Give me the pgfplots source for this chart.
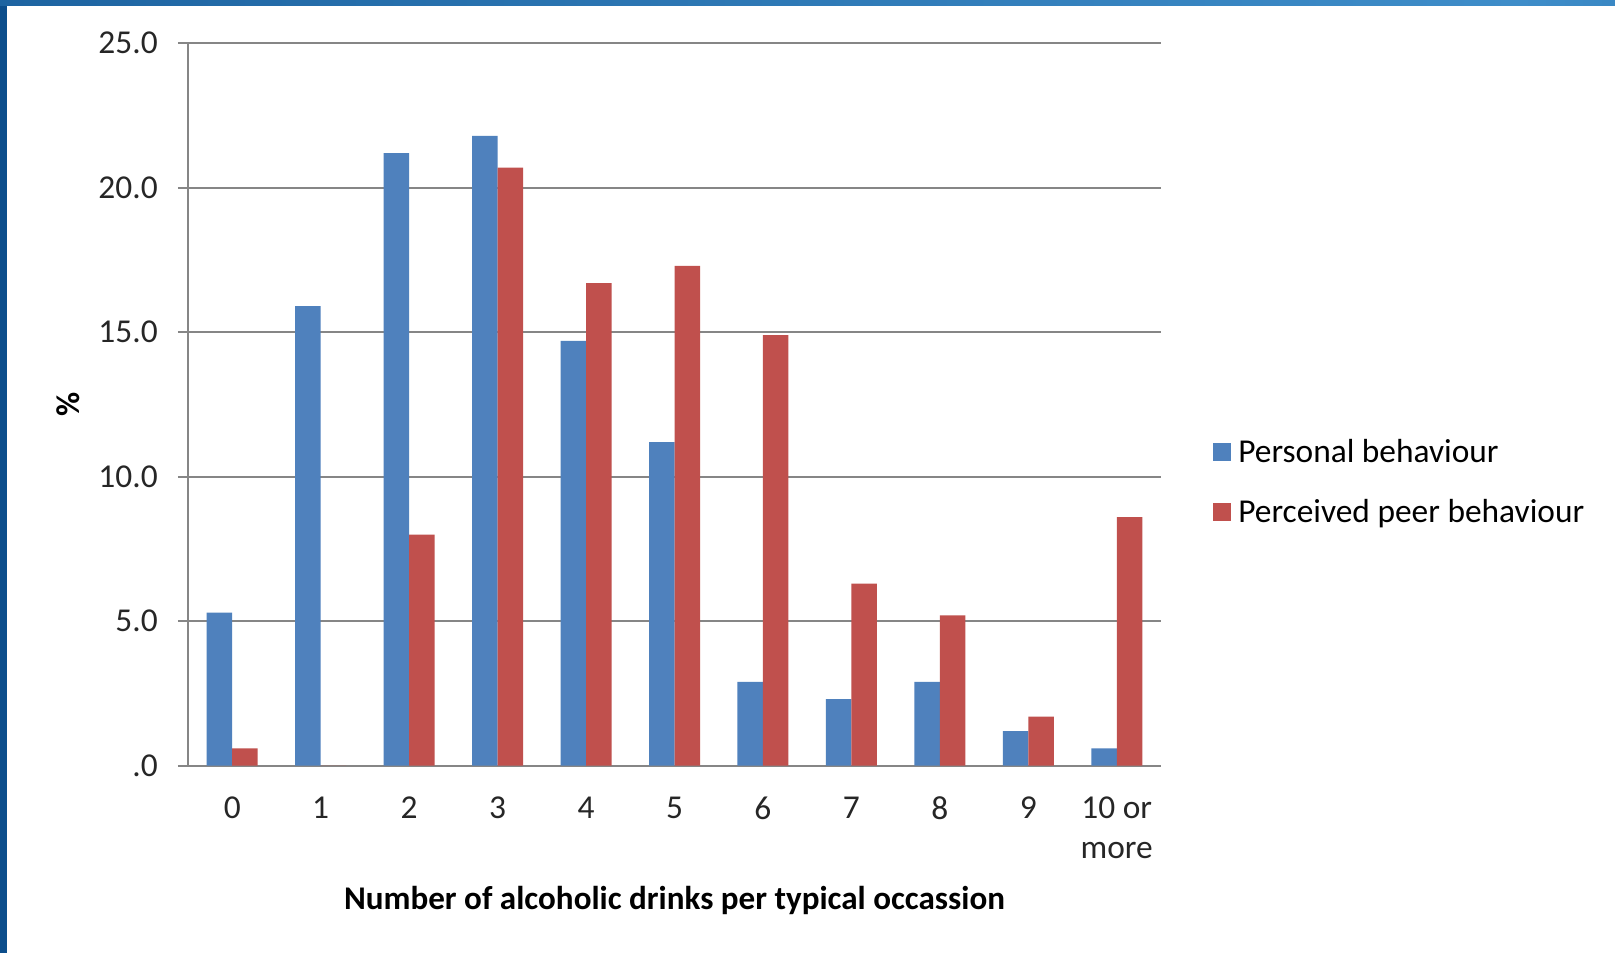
\documentclass[border=0pt]{standalone}
\usepackage{pgfplots}
\pgfplotsset{compat=1.18}
\usepackage{fontspec}
\setmainfont{Carlito}
\definecolor{pblue}{RGB}{79,129,189}
\definecolor{pred}{RGB}{192,80,77}
\definecolor{gridc}{RGB}{134,134,134}
\definecolor{frameA}{RGB}{12,78,140}
\definecolor{frameB}{RGB}{62,141,201}
\definecolor{frameC}{RGB}{20,92,152}
\pgfdeclarehorizontalshading{topbar}{100bp}{color(0bp)=(frameA); color(72bp)=(frameB); color(100bp)=(frameC)}

\pgfplotstableread{
cat personal perceived
0 5.3 0.6
1 15.9 0.0
2 21.2 8.0
3 21.8 20.7
4 14.7 16.7
5 11.2 17.3
6 2.9 14.9
7 2.3 6.3
8 2.9 5.2
9 1.2 1.7
10 0.6 8.6
}\datatable

\begin{document}
\begin{tikzpicture}
\useasboundingbox (0,0) rectangle (16.15cm,9.53cm);
\fill[white] (0,0) rectangle (16.15cm,9.53cm);
\begin{axis}[
  at={(1.88cm,1.873cm)}, anchor=south west,
  scale only axis, width=9.73cm, height=7.224cm,
  ybar=0pt, bar width=2.55mm,
  xmin=-0.5, xmax=10.5, ymin=0, ymax=25,
  xtick=data,
  xticklabels={0,1,2,3,4,5,6,7,8,9,{10 or\\more}},
  ytick={0,5,10,15,20,25},
  yticklabels={.0,5.0,10.0,15.0,20.0,25.0},
  axis x line*=bottom, axis y line*=left,
  axis line style={draw=gridc, line width=0.5pt},
  ymajorgrids, grid style={draw=gridc, line width=0.5pt},
  xtick style={draw=none},
  ytick style={draw=gridc, line width=0.5pt},
  tick align=outside, major tick length=1mm,
  every tick label/.append style={font=\fontsize{9.5}{11.4}\selectfont, text=black!85},
  xticklabel style={anchor=north, inner sep=0pt, yshift=-2.05mm, align=center},
  yticklabel style={anchor=east, inner sep=0pt, xshift=-1.96mm},
  xlabel={Number of alcoholic drinks per typical occassion},
  ylabel={\%},
  xlabel style={at={(axis description cs:0.5,0)}, anchor=base, yshift=-14.4mm, font=\fontsize{9.42}{11}\selectfont\bfseries},
  ylabel style={at={(axis description cs:-0.1233,0.5)}, anchor=center, font=\fontsize{9.42}{11}\selectfont\bfseries},
  legend style={at={(axis description cs:1.053,0.393)}, anchor=west, draw=none, fill=none,
    font=\fontsize{9.5}{10.8}\selectfont, row sep=4pt, inner sep=0pt},
  legend cell align=left,
  legend image code/.code={\fill[#1,draw=none] (0cm,-0.9mm) rectangle (1.8mm,0.9mm);},
]
\addplot[fill=pblue, draw=none] table[x=cat, y=personal] {\datatable};
\addplot[fill=pred, draw=none] table[x=cat, y=perceived] {\datatable};
\legend{\strut Personal behaviour, \strut Perceived peer behaviour}
\end{axis}
\fill[frameA] (0,0) rectangle (0.07cm,9.53cm);
\shade[shading=topbar] (0,9.47cm) rectangle (16.15cm,9.53cm);
\end{tikzpicture}
\end{document}
